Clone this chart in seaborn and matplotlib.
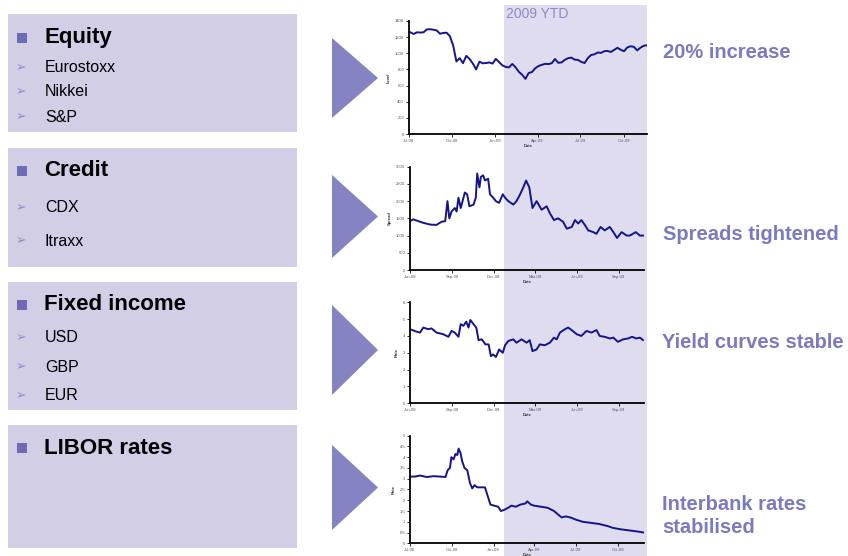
import numpy as np
import pandas as pd
import matplotlib
matplotlib.use("Agg")
import matplotlib.pyplot as plt
import matplotlib.dates as mdates
from matplotlib.patches import Rectangle, Polygon
import seaborn as sns

sns.set_style("white")
plt.rcParams["font.family"] = ["Liberation Sans", "DejaVu Sans"]

W, H = 848, 556

# ---------------- data ----------------
equity_dates = [
    "2008-07-03", "2008-07-11", "2008-07-18", "2008-07-25", "2008-08-01", "2008-08-08",
    "2008-08-15", "2008-08-22", "2008-08-29", "2008-09-05", "2008-09-12", "2008-09-19",
    "2008-09-26", "2008-10-03", "2008-10-10", "2008-10-17", "2008-10-24", "2008-10-31",
    "2008-11-07", "2008-11-14", "2008-11-21", "2008-11-28", "2008-12-05", "2008-12-12",
    "2008-12-19", "2008-12-26", "2009-01-02", "2009-01-09", "2009-01-16", "2009-01-23",
    "2009-01-30", "2009-02-06", "2009-02-13", "2009-02-20", "2009-02-27", "2009-03-06",
    "2009-03-13", "2009-03-20", "2009-03-27", "2009-04-03", "2009-04-09", "2009-04-17",
    "2009-04-24", "2009-05-01", "2009-05-08", "2009-05-15", "2009-05-22", "2009-05-29",
    "2009-06-05", "2009-06-12", "2009-06-19", "2009-06-26", "2009-07-02", "2009-07-10",
    "2009-07-17", "2009-07-24", "2009-07-31", "2009-08-07", "2009-08-14", "2009-08-21",
    "2009-08-28", "2009-09-04", "2009-09-11", "2009-09-18", "2009-09-25", "2009-10-02",
    "2009-10-09", "2009-10-16", "2009-10-23", "2009-10-30", "2009-11-06", "2009-11-13",
    "2009-11-20",
]
equity_level = [
    1262, 1239, 1260, 1257, 1260, 1296, 1298, 1292, 1283, 1242, 1252, 1255,
    1213, 1099, 899, 940, 877, 968, 930, 873, 800, 896, 876, 879,
    887, 872, 931, 890, 850, 831, 825, 868, 827, 770, 735, 683,
    756, 768, 815, 842, 856, 869, 866, 877, 929, 882, 887, 919,
    940, 946, 921, 918, 896, 879, 940, 979, 987, 1010, 1005, 1026,
    1029, 1016, 1042, 1068, 1044, 1025, 1072, 1087, 1080, 1036, 1069, 1093,
    1100,
]

credit_dates = [
    "2008-06-01", "2008-06-08", "2008-06-19", "2008-06-30", "2008-07-15", "2008-07-29",
    "2008-08-09", "2008-08-17", "2008-08-22", "2008-08-26", "2008-08-31", "2008-09-07",
    "2008-09-11", "2008-09-15", "2008-09-20", "2008-09-24", "2008-09-29", "2008-10-04",
    "2008-10-09", "2008-10-18", "2008-10-23", "2008-10-26", "2008-10-31", "2008-11-03",
    "2008-11-08", "2008-11-12", "2008-11-19", "2008-11-23", "2008-11-30", "2008-12-06",
    "2008-12-13", "2008-12-21", "2008-12-26", "2009-01-02", "2009-01-13", "2009-01-20",
    "2009-01-28", "2009-02-04", "2009-02-10", "2009-02-17", "2009-02-24", "2009-03-05",
    "2009-03-16", "2009-03-27", "2009-04-03", "2009-04-12", "2009-04-21", "2009-05-02",
    "2009-05-10", "2009-05-21", "2009-05-28", "2009-06-04", "2009-06-11", "2009-06-19",
    "2009-06-26", "2009-07-07", "2009-07-14", "2009-07-23", "2009-08-01", "2009-08-12",
    "2009-08-20", "2009-08-28", "2009-09-07", "2009-09-18", "2009-09-25", "2009-10-08",
    "2009-10-17", "2009-10-26",
]
credit_spread = [
    1420, 1470, 1420, 1370, 1320, 1310,
    1400, 1420, 2000, 1500, 1700, 1800,
    1700, 2100, 1800, 2000, 2250, 2200,
    1850, 1900, 2100, 2800, 2400, 2700,
    2750, 2600, 2650, 2200, 2100, 2000,
    1950, 2200, 2100, 2000, 1900, 2000,
    2200, 2400, 2600, 2400, 1800, 2000,
    1750, 1850, 1650, 1450, 1500, 1400,
    1200, 1250, 1450, 1350, 1450, 1300,
    1150, 1100, 1050, 1250, 1150, 1250,
    1100, 930, 1100, 1000, 1000, 1100,
    1000, 1000,
]

fixed_dates = [
    "2008-06-01", "2008-06-16", "2008-06-23", "2008-06-30", "2008-07-11", "2008-07-18",
    "2008-07-29", "2008-08-13", "2008-08-24", "2008-08-31", "2008-09-07", "2008-09-15",
    "2008-09-20", "2008-09-26", "2008-10-02", "2008-10-07", "2008-10-11", "2008-10-18",
    "2008-10-24", "2008-10-29", "2008-11-05", "2008-11-13", "2008-11-20", "2008-11-25",
    "2008-11-30", "2008-12-06", "2008-12-13", "2008-12-21", "2008-12-26", "2009-01-02",
    "2009-01-13", "2009-01-20", "2009-01-31", "2009-02-11", "2009-02-18", "2009-02-24",
    "2009-03-05", "2009-03-12", "2009-03-23", "2009-04-03", "2009-04-12", "2009-04-18",
    "2009-04-25", "2009-05-06", "2009-05-13", "2009-05-23", "2009-06-01", "2009-06-11",
    "2009-06-22", "2009-07-03", "2009-07-14", "2009-07-21", "2009-08-01", "2009-08-12",
    "2009-08-20", "2009-08-30", "2009-09-10", "2009-09-21", "2009-09-30", "2009-10-09",
    "2009-10-17", "2009-10-24",
]
fixed_rate = [
    4.4, 4.25, 4.2, 4.5, 4.4, 4.45,
    4.2, 4.1, 3.95, 4.3, 4.2, 3.95,
    4.7, 4.6, 4.85, 4.5, 4.95, 4.7,
    4.5, 3.75, 3.8, 3.5, 3.5, 2.8,
    2.9, 2.75, 3.2, 3.0, 3.45, 3.7,
    3.8, 3.6, 3.8, 3.6, 3.75, 3.1,
    3.2, 3.5, 3.45, 3.6, 3.9, 3.8,
    4.2, 4.4, 4.5, 4.3, 4.1, 4.0,
    4.3, 4.2, 4.35, 4.0, 3.95, 3.85,
    3.9, 3.65, 3.8, 3.85, 3.95, 3.85,
    3.9, 3.75,
]

libor_dates = [
    "2008-07-01", "2008-07-12", "2008-07-23", "2008-08-07", "2008-08-22", "2008-09-06",
    "2008-09-17", "2008-09-22", "2008-09-27", "2008-09-30", "2008-10-05", "2008-10-09",
    "2008-10-13", "2008-10-16", "2008-10-20", "2008-10-24", "2008-10-29", "2008-11-04",
    "2008-11-10", "2008-11-15", "2008-11-20", "2008-11-26", "2008-12-04", "2008-12-13",
    "2008-12-19", "2008-12-25", "2009-01-02", "2009-01-11", "2009-01-17", "2009-01-24",
    "2009-02-02", "2009-02-09", "2009-02-19", "2009-03-01", "2009-03-12", "2009-03-16",
    "2009-03-24", "2009-03-31", "2009-04-15", "2009-04-30", "2009-05-14", "2009-05-25",
    "2009-05-31", "2009-06-09", "2009-06-19", "2009-07-01", "2009-07-16", "2009-08-03",
    "2009-08-21", "2009-09-09", "2009-09-20", "2009-10-08", "2009-10-26", "2009-11-13",
    "2009-11-28",
]
libor_rate = [
    3.1, 3.1, 3.15, 3.08, 3.12, 3.1,
    3.08, 3.4, 3.5, 4.0, 3.9, 4.15,
    4.1, 4.4, 4.2, 3.8, 3.5, 3.4,
    2.8, 2.55, 2.7, 2.6, 2.6, 2.6,
    2.2, 1.8, 1.75, 1.7, 1.5, 1.55,
    1.65, 1.75, 1.7, 1.8, 1.85, 1.95,
    1.8, 1.75, 1.7, 1.65, 1.5, 1.3,
    1.2, 1.25, 1.2, 1.1, 1.0, 0.95,
    0.9, 0.8, 0.72, 0.65, 0.6, 0.55,
    0.5,
]

sections = ["Equity", "Credit", "Fixed income", "LIBOR rates"]
section_items = [["Eurostoxx", "Nikkei", "S&P"], ["CDX", "Itraxx"], ["USD", "GBP", "EUR"], []]
takeaways = ["20% increase", "Spreads tightened", "Yield curves stable", "Interbank rates\nstabilised"]
ytd_label = "2009 YTD"

# ---------------- styling ----------------
PANEL = "#d2cee6"
SHADE = "#dedcee"
ARROW = "#8583c1"
BULLET = "#6d6bb3"
ACCENT = "#7b79bf"
LINE = "#14148c"

fig = plt.figure(figsize=(W / 100, H / 100), dpi=100)
fig.patch.set_facecolor("white")


def fx(x):
    return x / W


def fy(y):
    return 1 - y / H


def rect_px(x0, y0, x1, y1, **kw):
    fig.patches.append(Rectangle((fx(x0), fy(y1)), fx(x1) - fx(x0), fy(y0) - fy(y1),
                                 transform=fig.transFigure, **kw))


# 2009 YTD band behind the charts
rect_px(504, 5, 647, 556, facecolor=SHADE, edgecolor="none", zorder=-5)
fig.text(fx(506), fy(14), ytd_label, color="#8b89c6", fontsize=10, va="center", ha="left")

# left description panels
panel_boxes = [(8, 14, 297, 132), (8, 148, 297, 267), (8, 282, 297, 410), (8, 425, 297, 548)]
head_y = [38, 171, 305, 448]
item_y = [[68, 92, 117], [208, 241], [338, 367, 396], []]
for box, title, hy, items, iys in zip(panel_boxes, sections, head_y, section_items, item_y):
    rect_px(*box, facecolor=PANEL, edgecolor="none", zorder=-5)
    rect_px(17, hy - 5, 27, hy + 5, facecolor=BULLET, edgecolor="none", zorder=1)
    fig.text(fx(44), fy(hy), title, fontsize=16, fontweight="bold", color="black",
             va="center", ha="left")
    for it, iy in zip(items, iys):
        fig.text(fx(16), fy(iy), "\u27a2", fontsize=9, color="#8c8ac8",
                 va="center", ha="left", family=["DejaVu Sans"])
        fig.text(fx(45), fy(iy), it, fontsize=11.5, color="black", va="center", ha="left")

# arrow heads between panels and charts
tri = [(38, 118), (175, 258), (305, 395), (445, 530)]
for t0, t1 in tri:
    fig.patches.append(Polygon([(fx(332), fy(t0)), (fx(378), fy((t0 + t1) / 2)), (fx(332), fy(t1))],
                               closed=True, transform=fig.transFigure,
                               facecolor=ARROW, edgecolor="none"))

# takeaway captions
cap_pos = [(663, 52), (663, 234), (662, 343), (662, 516)]
for txt, (cx, cy) in zip(takeaways, cap_pos):
    fig.text(fx(cx), fy(cy), txt, fontsize=14.5, fontweight="bold", color=ACCENT,
             va="center", ha="left", linespacing=1.3)

# ---------------- charts ----------------
charts = [
    dict(dates=equity_dates, vals=equity_level, box=(409, 21, 647, 134), ylim=(0, 1400),
         yticks=np.arange(0, 1401, 200), ylabel="Level",
         xlim=("2008-07-01", "2009-11-20"), months=[1, 4, 7, 10]),
    dict(dates=credit_dates, vals=credit_spread, box=(410, 166.7, 644, 270), ylim=(0, 3000),
         yticks=np.arange(0, 3001, 500), ylabel="Spread",
         xlim=("2008-06-01", "2009-10-26"), months=[3, 6, 9, 12]),
    dict(dates=fixed_dates, vals=fixed_rate, box=(410, 302.3, 644, 403.3), ylim=(0, 6),
         yticks=np.arange(0, 7, 1), ylabel="Rate",
         xlim=("2008-06-01", "2009-10-26"), months=[3, 6, 9, 12]),
    dict(dates=libor_dates, vals=libor_rate, box=(410, 435.7, 644, 543.3), ylim=(0, 5),
         yticks=np.arange(0, 5.01, 0.5), ylabel="Rate",
         xlim=("2008-07-01", "2009-11-28"), months=[1, 4, 7, 10]),
]

for c in charts:
    x0, y0, x1, y1 = c["box"]
    ax = fig.add_axes([fx(x0), fy(y1), fx(x1) - fx(x0), fy(y0) - fy(y1)])
    ax.set_facecolor("none")
    df = pd.DataFrame({"Date": pd.to_datetime(c["dates"]), "v": c["vals"]})
    sns.lineplot(data=df, x="Date", y="v", ax=ax, color=LINE, linewidth=1.4)
    ax.set_xlim(pd.Timestamp(c["xlim"][0]), pd.Timestamp(c["xlim"][1]))
    ax.set_ylim(*c["ylim"])
    ax.set_yticks(c["yticks"])
    ax.yaxis.set_major_formatter(matplotlib.ticker.FormatStrFormatter("%g"))
    ax.xaxis.set_major_locator(mdates.MonthLocator(bymonth=c["months"]))
    ax.xaxis.set_major_formatter(mdates.DateFormatter("%b-%y"))
    for s in ["top", "right"]:
        ax.spines[s].set_visible(False)
    for s in ["left", "bottom"]:
        ax.spines[s].set_color("black")
        ax.spines[s].set_linewidth(1.3)
    ax.tick_params(axis="both", which="major", length=2, width=0.6, color="black",
                   labelsize=3, labelcolor="#555555", pad=1.5, direction="out")
    ax.tick_params(axis="x", bottom=True)
    ax.tick_params(axis="y", left=True)
    ax.set_xlabel("Date", fontsize=3, fontweight="bold", labelpad=0.8, color="#333333")
    ax.set_ylabel(c["ylabel"], fontsize=3, fontweight="bold", labelpad=3, color="#333333")

fig.savefig("out.png", dpi=100)
